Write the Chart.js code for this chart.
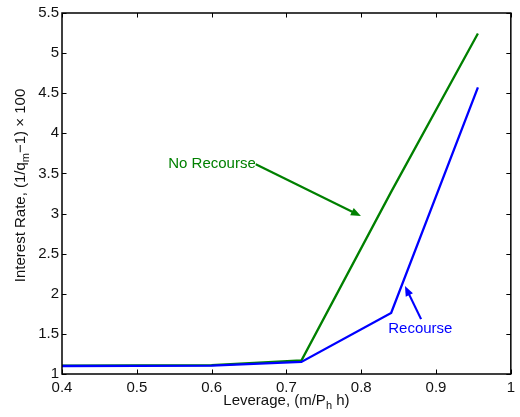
<!DOCTYPE html>
<html><head><meta charset="utf-8">
<script src="https://cdn.jsdelivr.net/npm/chart.js@4"></script>
<style>html,body{margin:0;padding:0;background:#fff}#wrap{width:520px;height:417px}</style>
</head><body><div id="wrap"><canvas id="c" width="520" height="417"></canvas></div>
<script>
// ---- data ----
const leverage   = [0.4, 0.6, 0.72, 0.84, 0.956];
const noRecourse = [1.105, 1.11, 1.168, 3.27, 5.245];
const recourse   = [1.100, 1.105, 1.150, 1.76, 4.573];
const xTicks = [0.4, 0.5, 0.6, 0.7, 0.8, 0.9, 1];
const yTicks = [1, 1.5, 2, 2.5, 3, 3.5, 4, 4.5, 5, 5.5];
const seriesNames = ['No Recourse', 'Recourse'];
// annotation anchors in data units: [text x, text y, arrow tail x, tail y, head x, head y]
const noRecourseNote = [0.659, 3.616, 0.659, 3.616, 0.7996, 2.969];
const recourseNote   = [0.879, 1.563, 0.880, 1.684, 0.8585, 2.098];

const FONT = '"Liberation Sans", Arial, Helvetica, sans-serif';
const GREEN = '#008000', BLUE = '#0000ff';

function pts(xs, ys){ return xs.map((x,i)=>({x:x, y:ys[i]})); }

function drawRich(ctx, parts, size, subSize){
  let total = 0;
  parts.forEach(p=>{ ctx.font = (p.sub?subSize:size)+'px '+FONT; p.w = ctx.measureText(p.t).width; total += p.w; });
  let x = -total/2;
  parts.forEach(p=>{ ctx.font = (p.sub?subSize:size)+'px '+FONT; ctx.fillText(p.t, x, p.sub?4:0); x += p.w; });
}

function arrow(ctx, x1, y1, x2, y2, color){
  const ang = Math.atan2(y2-y1, x2-x1);
  const L = 10, W = 4;
  ctx.save();
  ctx.strokeStyle = color; ctx.fillStyle = color; ctx.lineWidth = 2.2;
  ctx.beginPath(); ctx.moveTo(x1,y1);
  ctx.lineTo(x2 - Math.cos(ang)*L*0.8, y2 - Math.sin(ang)*L*0.8); ctx.stroke();
  ctx.beginPath();
  ctx.moveTo(x2, y2);
  ctx.lineTo(x2 - Math.cos(ang)*L - Math.sin(ang)*W, y2 - Math.sin(ang)*L + Math.cos(ang)*W);
  ctx.lineTo(x2 - Math.cos(ang)*L + Math.sin(ang)*W, y2 - Math.sin(ang)*L - Math.cos(ang)*W);
  ctx.closePath(); ctx.fill();
  ctx.restore();
}

const deco = {
  id: 'deco',
  afterDraw(chart){
    const ctx = chart.ctx, a = chart.chartArea;
    const xs = chart.scales.x, ys = chart.scales.y;
    ctx.save();
    // frame
    ctx.strokeStyle = '#000'; ctx.lineWidth = 1.5;
    ctx.strokeRect(a.left, a.top, a.right - a.left, a.bottom - a.top);
    // inward ticks on all four sides
    ctx.lineWidth = 1;
    const tl = 4.5;
    ctx.beginPath();
    xTicks.forEach(v=>{
      const px = Math.round(xs.getPixelForValue(v)) + 0.5;
      ctx.moveTo(px, a.bottom); ctx.lineTo(px, a.bottom - tl);
      ctx.moveTo(px, a.top); ctx.lineTo(px, a.top + tl);
    });
    yTicks.forEach(v=>{
      const py = Math.round(ys.getPixelForValue(v)) + 0.5;
      ctx.moveTo(a.left, py); ctx.lineTo(a.left + tl, py);
      ctx.moveTo(a.right, py); ctx.lineTo(a.right - tl, py);
    });
    ctx.stroke();

    // annotations
    const P = (x,y)=>[xs.getPixelForValue(x), ys.getPixelForValue(y)];
    let t = P(noRecourseNote[0], noRecourseNote[1]);
    ctx.font = '15px ' + FONT; ctx.fillStyle = GREEN;
    ctx.textAlign = 'right'; ctx.textBaseline = 'middle';
    ctx.fillText(seriesNames[0], t[0], t[1]);
    let s = P(noRecourseNote[2], noRecourseNote[3]), h = P(noRecourseNote[4], noRecourseNote[5]);
    arrow(ctx, s[0], s[1], h[0], h[1], GREEN);

    t = P(recourseNote[0], recourseNote[1]);
    ctx.fillStyle = BLUE; ctx.textAlign = 'center'; ctx.textBaseline = 'middle';
    ctx.fillText(seriesNames[1], t[0], t[1]);
    s = P(recourseNote[2], recourseNote[3]); h = P(recourseNote[4], recourseNote[5]);
    arrow(ctx, s[0], s[1], h[0], h[1], BLUE);

    // axis titles with subscripts
    ctx.fillStyle = '#111'; ctx.textAlign = 'left'; ctx.textBaseline = 'alphabetic';
    ctx.save();
    ctx.translate((a.left + a.right)/2, 405);
    drawRich(ctx, [{t:'Leverage, (m/P'}, {t:'h', sub:true}, {t:' h)'}], 15, 11);
    ctx.restore();
    ctx.save();
    ctx.translate(25, (a.top + a.bottom)/2 - 8);
    ctx.rotate(-Math.PI/2);
    drawRich(ctx, [{t:'Interest Rate, (1/q'}, {t:'m', sub:true}, {t:'\u22121) \u00d7 100'}], 15, 11);
    ctx.restore();
    ctx.restore();
  }
};

new Chart(document.getElementById('c'), {
  type: 'line',
  data: {
    datasets: [
      { label: seriesNames[1], data: pts(leverage, recourse), borderColor: BLUE, borderWidth: 2.3, pointRadius: 0, fill: false, tension: 0 },
      { label: seriesNames[0], data: pts(leverage, noRecourse), borderColor: GREEN, borderWidth: 2.3, pointRadius: 0, fill: false, tension: 0 }
    ]
  },
  options: {
    responsive: false, animation: false, devicePixelRatio: 1,
    layout: { padding: { left: 0, top: 13, right: 5, bottom: 0 } },
    plugins: { legend: { display: false }, tooltip: { enabled: false } },
    scales: {
      x: {
        type: 'linear', min: 0.4, max: 1,
        grid: { display: false, drawTicks: false }, border: { display: false },
        afterBuildTicks: sc => { sc.ticks = xTicks.map(v=>({value:v})); },
        afterFit: sc => { sc.height = 43; },
        ticks: { padding: 5, color: '#111', font: { family: FONT, size: 15 }, maxRotation: 0, autoSkip: false,
                 callback: v => String(Math.round(v*10)/10) }
      },
      y: {
        type: 'linear', min: 1, max: 5.5,
        grid: { display: false, drawTicks: false }, border: { display: false },
        afterBuildTicks: sc => { sc.ticks = yTicks.map(v=>({value:v})); },
        afterFit: sc => { sc.width = 62; },
        ticks: { padding: 3, color: '#111', font: { family: FONT, size: 15 }, autoSkip: false,
                 callback: v => String(Math.round(v*10)/10) }
      }
    }
  },
  plugins: [deco]
});
</script>
</body></html>
